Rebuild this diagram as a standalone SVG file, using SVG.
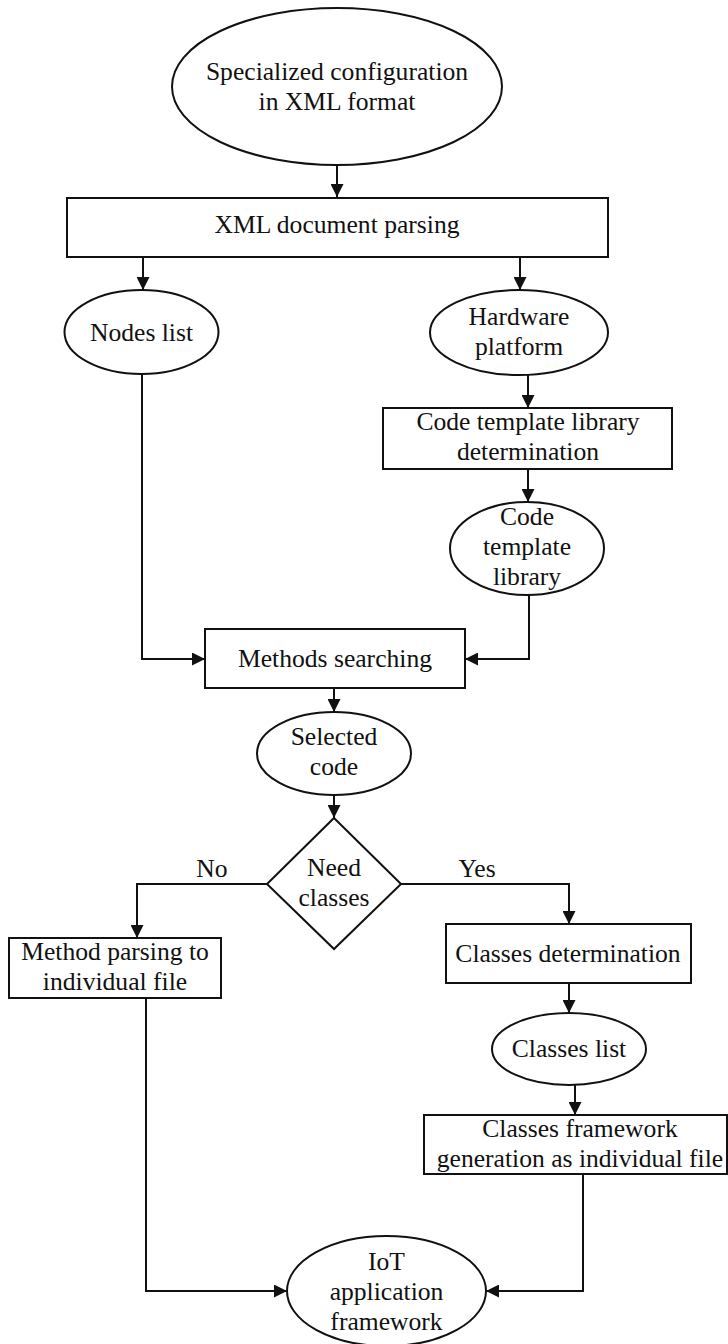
<svg xmlns="http://www.w3.org/2000/svg" width="728" height="1344" viewBox="0 0 728 1344">
  <style>
    .shape { fill: #ffffff; stroke: #111111; stroke-width: 2; }
    .wire { fill: none; stroke: #111111; stroke-width: 2; }
    text { font-family: "Liberation Serif", "Times New Roman", serif; font-size: 25.6px; fill: #111111; text-anchor: middle; }
  </style>
  <defs>
    <marker id="arrow" markerUnits="userSpaceOnUse" markerWidth="13" markerHeight="13" viewBox="0 0 13 13" refX="13" refY="6.5" orient="auto">
      <path d="M0,0 L13,6.5 L0,13 z" fill="#111111"/>
    </marker>
  </defs>
  <rect width="728" height="1344" fill="#ffffff"/>

  <!-- connectors -->
  <g id="connectors">
    <path class="wire" d="M337,165 L337,197" marker-end="url(#arrow)"/>
    <path class="wire" d="M143,257 L143,290" marker-end="url(#arrow)"/>
    <path class="wire" d="M520,257 L520,290" marker-end="url(#arrow)"/>
    <path class="wire" d="M528,375 L528,408" marker-end="url(#arrow)"/>
    <path class="wire" d="M528,469 L528,502" marker-end="url(#arrow)"/>
    <path class="wire" d="M529,595 L529,659 L465,659" marker-end="url(#arrow)"/>
    <path class="wire" d="M142,374 L142,659 L205,659" marker-end="url(#arrow)"/>
    <path class="wire" d="M334,688 L334,712" marker-end="url(#arrow)"/>
    <path class="wire" d="M334,795 L334,818" marker-end="url(#arrow)"/>
    <path class="wire" d="M267,884 L137,884 L137,938" marker-end="url(#arrow)"/>
    <path class="wire" d="M401,884 L569,884 L569,924" marker-end="url(#arrow)"/>
    <path class="wire" d="M569,983 L569,1013" marker-end="url(#arrow)"/>
    <path class="wire" d="M575,1085 L575,1115" marker-end="url(#arrow)"/>
    <path class="wire" d="M146,998 L146,1291 L287,1291" marker-end="url(#arrow)"/>
    <path class="wire" d="M583,1174 L583,1291 L486,1291" marker-end="url(#arrow)"/>
    <text x="212" y="877">No</text>
    <text x="477" y="877">Yes</text>
  </g>

  <g id="xml-config">
    <ellipse class="shape" cx="337" cy="86.5" rx="165" ry="78.5"/>
    <text x="337" y="80">Specialized configuration</text>
    <text x="337" y="110">in XML format</text>
  </g>

  <g id="xml-parsing">
    <rect class="shape" x="67" y="198" width="541" height="59"/>
    <text x="337" y="233">XML document parsing</text>
  </g>

  <g id="nodes-list">
    <ellipse class="shape" cx="141.5" cy="332" rx="77" ry="42"/>
    <text x="141.5" y="341">Nodes list</text>
  </g>

  <g id="hardware-platform">
    <ellipse class="shape" cx="519" cy="332.5" rx="89" ry="42.5"/>
    <text x="519" y="325">Hardware</text>
    <text x="519" y="355">platform</text>
  </g>

  <g id="template-determination">
    <rect class="shape" x="383" y="408" width="289" height="61"/>
    <text x="528" y="430">Code template library</text>
    <text x="528" y="460">determination</text>
  </g>

  <g id="template-library">
    <ellipse class="shape" cx="527" cy="548.5" rx="77" ry="46.5"/>
    <text x="527" y="525">Code</text>
    <text x="527" y="555">template</text>
    <text x="527" y="585">library</text>
  </g>

  <g id="methods-searching">
    <rect class="shape" x="205" y="629" width="260" height="59"/>
    <text x="335" y="667">Methods searching</text>
  </g>

  <g id="selected-code">
    <ellipse class="shape" cx="334" cy="753.5" rx="77" ry="41.5"/>
    <text x="334" y="745">Selected</text>
    <text x="334" y="775">code</text>
  </g>

  <g id="need-classes">
    <polygon class="shape" points="334,818 401,884 334,949 267,884"/>
    <text x="334" y="876">Need</text>
    <text x="334" y="906">classes</text>
  </g>

  <g id="method-parsing">
    <rect class="shape" x="9" y="938" width="212" height="60"/>
    <text x="115" y="960">Method parsing to</text>
    <text x="115" y="990">individual file</text>
  </g>

  <g id="classes-determination">
    <rect class="shape" x="446" y="924" width="245" height="59"/>
    <text x="568" y="962">Classes determination</text>
  </g>

  <g id="classes-list">
    <ellipse class="shape" cx="569" cy="1049" rx="77" ry="36"/>
    <text x="569" y="1057">Classes list</text>
  </g>

  <g id="classes-framework">
    <rect class="shape" x="424" y="1115" width="303" height="59"/>
    <text x="580" y="1137">Classes framework</text>
    <text x="580" y="1167">generation as individual file</text>
  </g>

  <g id="iot-framework">
    <ellipse class="shape" cx="386.5" cy="1291" rx="99.5" ry="55"/>
    <text x="386.5" y="1270">IoT</text>
    <text x="386.5" y="1300">application</text>
    <text x="386.5" y="1330">framework</text>
  </g>
</svg>
